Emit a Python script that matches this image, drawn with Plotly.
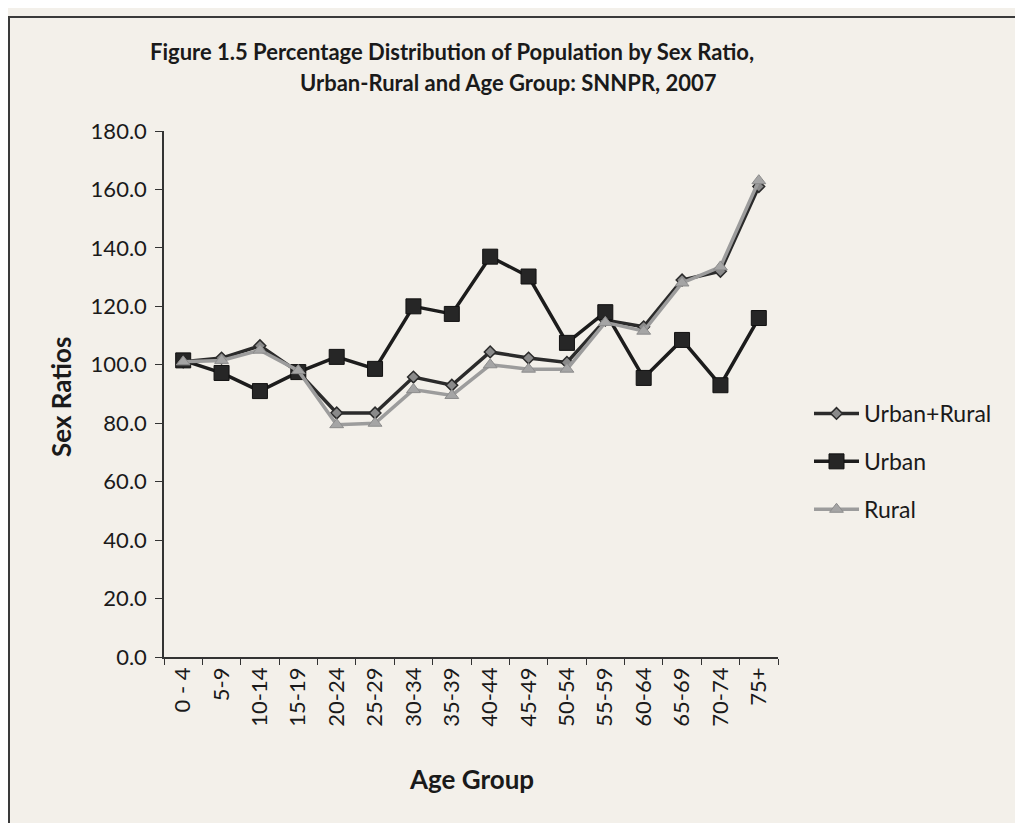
import plotly.graph_objects as go

age_groups = ["0 - 4", "5-9", "10-14", "15-19", "20-24", "25-29", "30-34", "35-39",
              "40-44", "45-49", "50-54", "55-59", "60-64", "65-69", "70-74", "75+"]
urban_rural = [101.0, 102.3, 106.5, 97.5, 83.5, 83.5, 95.8, 93.0,
               104.4, 102.3, 100.8, 115.3, 113.0, 129.0, 132.0, 161.0]
urban = [101.5, 97.2, 91.0, 97.5, 102.7, 98.6, 120.0, 117.4,
         137.0, 130.2, 107.5, 118.0, 95.5, 108.5, 93.0, 116.0]
rural = [101.0, 101.5, 105.0, 98.0, 79.5, 80.0, 91.5, 89.5,
         100.0, 98.5, 98.5, 114.5, 111.5, 128.0, 133.5, 163.0]
y_ticks = [0, 20, 40, 60, 80, 100, 120, 140, 160, 180]

FONT = "Lato, Open Sans, sans-serif"
TXT = "#1a1a1a"

# plot area in screen pixels (page has an 8px body offset, compensated in margins)
PX0, PX1, PY0, PY1 = 164, 778, 131, 657
W, H = PX1 - PX0, PY1 - PY0


def px(x):
    return (x - PX0) / W


def py(y):
    return (PY1 - y) / H


fig = go.Figure()
fig.add_trace(go.Scatter(
    x=age_groups, y=urban_rural, name="Urban+Rural", mode="lines+markers",
    line=dict(color="#2b2b2b", width=3.5),
    marker=dict(symbol="diamond", size=9, color="#8a8a8a", line=dict(color="#2b2b2b", width=1.5)),
    legendgroup="a"))
fig.add_trace(go.Scatter(
    x=age_groups, y=urban, name="Urban", mode="lines+markers",
    line=dict(color="#1c1c1c", width=3.5),
    marker=dict(symbol="square", size=15, color="#262626", line=dict(color="#111111", width=1)),
    legendgroup="b"))
fig.add_trace(go.Scatter(
    x=age_groups, y=rural, name="Rural", mode="lines+markers",
    line=dict(color="#9c9c9c", width=3.5),
    marker=dict(symbol="triangle-up", size=12, color="#a5a5a5", line=dict(color="#8c8c8c", width=1)),
    legendgroup="c"))

fig.update_layout(
    width=1023, height=823,
    margin=dict(l=PX0 - 8, r=1023 - PX1 + 8, t=PY0 - 8, b=823 - PY1 + 8),
    paper_bgcolor="#f3f0ea", plot_bgcolor="rgba(0,0,0,0)",
    font=dict(family=FONT, color=TXT, size=22),
    showlegend=True,
    legend=dict(x=px(809), y=py(392), xanchor="left", yanchor="top",
                font=dict(size=23, color=TXT), bgcolor="rgba(0,0,0,0)",
                traceorder="grouped", tracegroupgap=15, itemwidth=45),
    xaxis=dict(type="category", showline=True, linecolor="#333", linewidth=1.5,
               ticks="outside", tickson="boundaries", ticklen=6, tickcolor="#333",
               tickangle=-90, showgrid=False, zeroline=False,
               tickfont=dict(size=22, color=TXT), range=[-0.5, 15.5]),
    yaxis=dict(range=[0, 180], tickvals=y_ticks, tickformat=".1f",
               showline=True, linecolor="#333", linewidth=1.5,
               ticks="outside", ticklen=7, tickcolor="#333", ticklabelstandoff=4,
               showgrid=False, zeroline=False, tickfont=dict(size=22, color=TXT)),
    annotations=[
        dict(text="<b>Figure 1.5 Percentage Distribution of Population by Sex Ratio,</b>",
             xref="paper", yref="paper", x=px(452), y=py(51),
             xanchor="center", yanchor="middle", showarrow=False,
             font=dict(size=22, color=TXT, family=FONT)),
        dict(text="<b>Urban-Rural and Age Group: SNNPR, 2007</b>",
             xref="paper", yref="paper", x=px(508), y=py(82),
             xanchor="center", yanchor="middle", showarrow=False,
             font=dict(size=22, color=TXT, family=FONT)),
        dict(text="<b>Sex Ratios</b>", textangle=-90,
             xref="paper", yref="paper", x=px(61), y=py(397),
             xanchor="center", yanchor="middle", showarrow=False,
             font=dict(size=26, color=TXT, family=FONT)),
        dict(text="<b>Age Group</b>",
             xref="paper", yref="paper", x=px(471), y=py(779),
             xanchor="center", yanchor="middle", showarrow=False,
             font=dict(size=26, color=TXT, family=FONT)),
    ],
    shapes=[
        dict(type="rect", xref="paper", yref="paper",
             x0=px(9), x1=px(1017), y0=py(840), y1=py(17),
             line=dict(color="#3a3a3a", width=2), fillcolor="rgba(0,0,0,0)", layer="below"),
    ],
)

fig.write_html("out.html")
